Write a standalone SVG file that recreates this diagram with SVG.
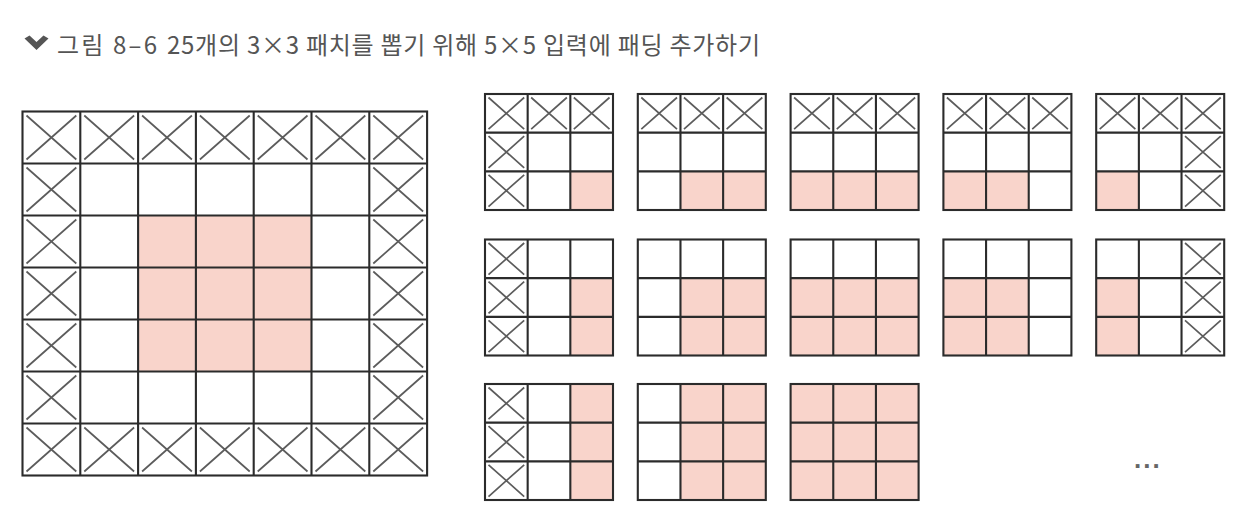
<svg xmlns="http://www.w3.org/2000/svg" xmlns:xlink="http://www.w3.org/1999/xlink" width="1246" height="532" viewBox="0 0 1246 532">
<style>
.bg{fill:#ffffff}
.grid{fill:none;stroke:#2b2b2b;stroke-width:2.1}
.x{stroke:#5c5c5c;stroke-width:1.7;fill:none}
.p{fill:#f9d4cb}
.t{font-family:"Noto Sans CJK KR","Noto Sans",sans-serif;font-size:24px;fill:#555555}
.dots{font-family:"Liberation Sans",sans-serif;font-size:26px;font-weight:bold;fill:#666666;letter-spacing:2px}
</style>
<defs>
<path id="xb" class="x" d="M4 4L53.8 48M53.8 4L4 48"/>
<path id="xs" class="x" d="M3.5 3.5L39.2 35.2M39.2 3.5L3.5 35.2"/>
<g id="bgrid" class="grid">
<rect x="0" y="0" width="404.6" height="364"/>
<path d="M57.8 0V364M115.6 0V364M173.4 0V364M231.2 0V364M289 0V364M346.8 0V364M0 52H404.6M0 104H404.6M0 156H404.6M0 208H404.6M0 260H404.6M0 312H404.6"/>
</g>
<g id="sgrid" class="grid">
<rect x="0" y="0" width="128" height="116"/>
<path d="M42.67 0V116M85.33 0V116M0 38.67H128M0 77.33H128"/>
</g>
</defs>
<rect class="bg" x="0" y="0" width="1246" height="532"/>

<g id="title">
<polygon points="24.5,38.5 29.5,35.5 36.5,42 43.5,35.5 48.5,38.5 36.5,50" fill="#555555"/>
<text class="t" x="57" y="54" textLength="100">그림 8–6</text>
<text class="t" x="167" y="54" textLength="593">25개의 3×3 패치를 뽑기 위해 5×5 입력에 패딩 추가하기</text>
</g>

<g id="input-grid" transform="translate(22.5,111.5)">
<rect class="p" x="115.6" y="104" width="173.4" height="156"/>
<use xlink:href="#xb" x="0" y="0"/><use xlink:href="#xb" x="57.8" y="0"/><use xlink:href="#xb" x="115.6" y="0"/><use xlink:href="#xb" x="173.4" y="0"/><use xlink:href="#xb" x="231.2" y="0"/><use xlink:href="#xb" x="289" y="0"/><use xlink:href="#xb" x="346.8" y="0"/>
<use xlink:href="#xb" x="0" y="312"/><use xlink:href="#xb" x="57.8" y="312"/><use xlink:href="#xb" x="115.6" y="312"/><use xlink:href="#xb" x="173.4" y="312"/><use xlink:href="#xb" x="231.2" y="312"/><use xlink:href="#xb" x="289" y="312"/><use xlink:href="#xb" x="346.8" y="312"/>
<use xlink:href="#xb" x="0" y="52"/><use xlink:href="#xb" x="0" y="104"/><use xlink:href="#xb" x="0" y="156"/><use xlink:href="#xb" x="0" y="208"/><use xlink:href="#xb" x="0" y="260"/>
<use xlink:href="#xb" x="346.8" y="52"/><use xlink:href="#xb" x="346.8" y="104"/><use xlink:href="#xb" x="346.8" y="156"/><use xlink:href="#xb" x="346.8" y="208"/><use xlink:href="#xb" x="346.8" y="260"/>
<use xlink:href="#bgrid"/>
</g>

<g id="patch-0-0" transform="translate(485,94)">
<rect class="p" x="85.33" y="77.33" width="42.67" height="38.67"/>
<use xlink:href="#xs" x="0" y="0"/><use xlink:href="#xs" x="42.67" y="0"/><use xlink:href="#xs" x="85.33" y="0"/>
<use xlink:href="#xs" x="0" y="38.67"/><use xlink:href="#xs" x="0" y="77.33"/>
<use xlink:href="#sgrid"/>
</g>
<g id="patch-0-1" transform="translate(637.8,94)">
<rect class="p" x="42.67" y="77.33" width="85.33" height="38.67"/>
<use xlink:href="#xs" x="0" y="0"/><use xlink:href="#xs" x="42.67" y="0"/><use xlink:href="#xs" x="85.33" y="0"/>
<use xlink:href="#sgrid"/>
</g>
<g id="patch-0-2" transform="translate(790.6,94)">
<rect class="p" x="0" y="77.33" width="128" height="38.67"/>
<use xlink:href="#xs" x="0" y="0"/><use xlink:href="#xs" x="42.67" y="0"/><use xlink:href="#xs" x="85.33" y="0"/>
<use xlink:href="#sgrid"/>
</g>
<g id="patch-0-3" transform="translate(943.4,94)">
<rect class="p" x="0" y="77.33" width="85.33" height="38.67"/>
<use xlink:href="#xs" x="0" y="0"/><use xlink:href="#xs" x="42.67" y="0"/><use xlink:href="#xs" x="85.33" y="0"/>
<use xlink:href="#sgrid"/>
</g>
<g id="patch-0-4" transform="translate(1096.2,94)">
<rect class="p" x="0" y="77.33" width="42.67" height="38.67"/>
<use xlink:href="#xs" x="0" y="0"/><use xlink:href="#xs" x="42.67" y="0"/><use xlink:href="#xs" x="85.33" y="0"/>
<use xlink:href="#xs" x="85.33" y="38.67"/><use xlink:href="#xs" x="85.33" y="77.33"/>
<use xlink:href="#sgrid"/>
</g>

<g id="patch-1-0" transform="translate(485,239.5)">
<rect class="p" x="85.33" y="38.67" width="42.67" height="77.33"/>
<use xlink:href="#xs" x="0" y="0"/><use xlink:href="#xs" x="0" y="38.67"/><use xlink:href="#xs" x="0" y="77.33"/>
<use xlink:href="#sgrid"/>
</g>
<g id="patch-1-1" transform="translate(637.8,239.5)">
<rect class="p" x="42.67" y="38.67" width="85.33" height="77.33"/>
<use xlink:href="#sgrid"/>
</g>
<g id="patch-1-2" transform="translate(790.6,239.5)">
<rect class="p" x="0" y="38.67" width="128" height="77.33"/>
<use xlink:href="#sgrid"/>
</g>
<g id="patch-1-3" transform="translate(943.4,239.5)">
<rect class="p" x="0" y="38.67" width="85.33" height="77.33"/>
<use xlink:href="#sgrid"/>
</g>
<g id="patch-1-4" transform="translate(1096.2,239.5)">
<rect class="p" x="0" y="38.67" width="42.67" height="77.33"/>
<use xlink:href="#xs" x="85.33" y="0"/><use xlink:href="#xs" x="85.33" y="38.67"/><use xlink:href="#xs" x="85.33" y="77.33"/>
<use xlink:href="#sgrid"/>
</g>

<g id="patch-2-0" transform="translate(485,384)">
<rect class="p" x="85.33" y="0" width="42.67" height="116"/>
<use xlink:href="#xs" x="0" y="0"/><use xlink:href="#xs" x="0" y="38.67"/><use xlink:href="#xs" x="0" y="77.33"/>
<use xlink:href="#sgrid"/>
</g>
<g id="patch-2-1" transform="translate(637.8,384)">
<rect class="p" x="42.67" y="0" width="85.33" height="116"/>
<use xlink:href="#sgrid"/>
</g>
<g id="patch-2-2" transform="translate(790.6,384)">
<rect class="p" x="0" y="0" width="128" height="116"/>
<use xlink:href="#sgrid"/>
</g>

<g id="ellipsis">
<text class="dots" x="1134" y="468">...</text>
</g>
<g id="connectors"/>
</svg>
